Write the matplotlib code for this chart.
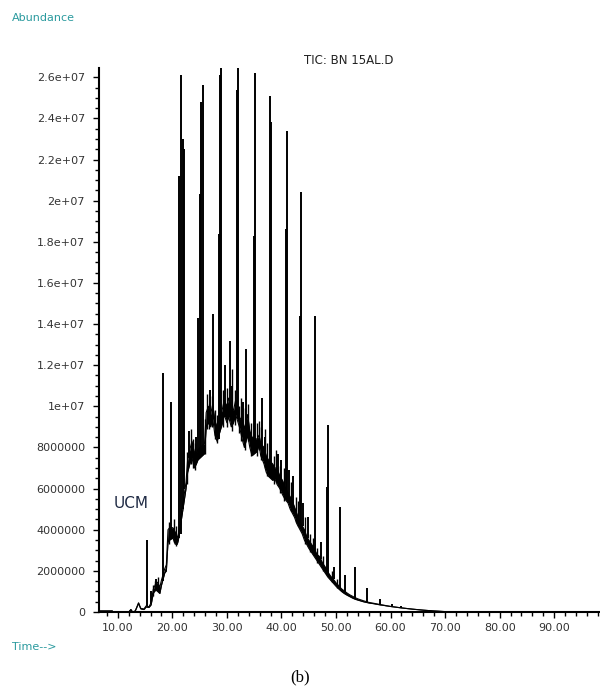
import matplotlib
matplotlib.use("Agg")
import matplotlib.pyplot as plt
from matplotlib.ticker import MultipleLocator, FuncFormatter

# Baseline / UCM hump of the TIC trace (time in min, abundance in millions)
trace_time = [6.6, 9.0, 9.1, 12.0, 12.4, 12.7, 13.2, 13.8, 14.2, 14.8, 15.2, 15.7,
              16.1, 16.5, 16.9, 17.3, 17.7, 18.0, 18.6, 18.9, 19.2, 19.5, 20.1, 20.5,
              20.9, 21.1, 22.5, 22.8, 23.2, 23.6, 24.0, 24.4, 24.7, 25.9, 26.2, 26.6,
              27.0, 27.4, 27.8, 28.2, 29.2, 29.5, 30.0, 30.3, 30.8, 31.2, 31.6, 32.4,
              32.8, 33.2, 33.8, 34.2, 34.6, 35.5, 35.9, 36.2, 36.8, 37.2, 37.6, 38.4,
              38.8, 39.2, 39.7, 40.2, 40.6, 41.2, 41.6, 42.0, 42.4, 42.8, 43.2, 43.8,
              44.2, 44.6, 45.0, 45.5, 46.0, 46.5, 47.0, 47.5, 48.0, 48.5, 49.0, 49.5,
              50.0, 50.5, 51.0, 51.5, 52.0, 52.5, 53.0, 53.5, 54.0, 55.0, 56.0, 57.0,
              58.0, 60.0, 62.0, 64.0, 66.0, 68.0, 70.0, 71.0, 98.4]
trace_low = [0.05, 0.05, 0.0, 0.0, 0.12, 0.0, 0.05, 0.42, 0.15, 0.12, 0.25, 0.22,
             0.35, 0.9, 1.1, 1.0, 0.9, 1.3, 1.9, 2.0, 3.4, 3.5, 3.6, 3.3,
             3.3, 3.5, 6.0, 6.8, 7.2, 7.5, 7.0, 7.2, 7.4, 7.7, 9.0, 9.2,
             9.0, 9.4, 8.6, 8.3, 9.2, 9.6, 9.2, 9.5, 9.0, 9.2, 9.6, 8.9,
             8.4, 8.0, 8.6, 8.0, 7.6, 7.8, 8.1, 7.6, 7.2, 6.8, 6.6, 6.4,
             6.5, 6.2, 6.0, 5.7, 5.5, 5.3, 5.0, 4.8, 4.6, 4.3, 4.1, 3.8,
             3.5, 3.3, 3.1, 2.9, 2.7, 2.5, 2.3, 2.1, 1.9, 1.7, 1.55, 1.4,
             1.25, 1.12, 1.0, 0.9, 0.82, 0.75, 0.68, 0.62, 0.58, 0.5, 0.44, 0.4,
             0.35, 0.27, 0.2, 0.14, 0.09, 0.05, 0.02, 0.0, 0.0]
trace_high = [0.05, 0.05, 0.0, 0.0, 0.12, 0.0, 0.05, 0.45, 0.18, 0.15, 0.3, 0.25,
              0.45, 1.1, 1.35, 1.45, 1.2, 1.55, 2.1, 2.3, 4.0, 4.1, 4.1, 3.9,
              3.6, 3.8, 6.3, 7.4, 7.9, 8.3, 7.8, 7.7, 7.9, 8.2, 9.7, 10.0,
              9.6, 10.1, 9.3, 9.0, 9.9, 10.3, 10.0, 10.4, 10.0, 9.8, 10.3, 9.4,
              9.4, 8.9, 9.6, 8.8, 8.5, 8.4, 8.6, 8.2, 8.0, 7.6, 7.4, 7.2,
              7.0, 7.0, 6.6, 6.4, 6.1, 5.8, 5.6, 5.4, 5.1, 4.8, 4.5, 4.2,
              4.0, 3.7, 3.5, 3.3, 3.1, 2.8, 2.7, 2.4, 2.2, 1.95, 1.75, 1.6,
              1.42, 1.28, 1.13, 1.03, 0.93, 0.84, 0.77, 0.7, 0.64, 0.55, 0.47, 0.42,
              0.37, 0.27, 0.2, 0.14, 0.09, 0.05, 0.02, 0.0, 0.0]

# Resolved peaks: retention time, foot and apex (millions)
peak_time = [15.42, 16.0, 17.0, 18.35, 19.75, 21.28, 21.6, 21.9, 22.2, 23.0,
             24.3, 24.76, 25.0, 25.3, 25.65, 26.9, 27.5, 28.5, 28.75, 28.95,
             29.7, 30.5, 31.0, 31.85, 32.05, 33.0, 33.55, 34.9, 35.15, 36.5,
             37.0, 37.95, 38.15, 39.4, 40.0, 40.75, 40.95, 41.4, 42.1, 43.35,
             43.5, 44.0, 44.9, 46.1, 47.2, 48.4, 48.5, 49.7, 50.8, 51.7,
             53.4, 55.6, 58.0, 60.2, 62.0]
peak_base = [0.3, 0.4, 1.2, 1.5, 3.8, 3.6, 3.8, 5.0, 6.0, 7.5,
             7.5, 7.5, 7.6, 7.7, 7.8, 9.5, 9.4, 8.4, 8.8, 9.0,
             9.5, 9.5, 9.5, 9.6, 9.4, 8.8, 8.6, 8.0, 8.0, 7.8,
             7.5, 7.0, 7.0, 6.4, 6.3, 5.6, 5.6, 5.6, 5.2, 4.2,
             4.2, 4.2, 3.6, 2.8, 2.6, 1.8, 1.8, 1.6, 1.1, 0.95,
             0.65, 0.5, 0.36, 0.27, 0.2]
peak_top = [3.5, 1.0, 1.6, 11.6, 10.2, 21.2, 26.1, 23.0, 22.5, 8.8,
            8.5, 14.3, 20.3, 24.8, 25.6, 10.8, 14.5, 18.4, 26.1, 26.45,
            12.0, 13.2, 11.0, 25.4, 26.45, 10.2, 12.8, 18.3, 26.2, 10.4,
            8.5, 25.1, 23.8, 7.7, 7.4, 18.6, 23.4, 6.9, 6.6, 14.4,
            20.4, 5.3, 4.6, 14.4, 3.4, 6.1, 9.1, 2.2, 5.1, 1.8,
            2.2, 1.15, 0.63, 0.38, 0.28]

# Unresolved jitter on top of the hump (time, low, high in millions)
jitter_time = [16.4, 16.8, 17.4, 19.4, 20.3, 20.7, 22.7, 23.4, 23.8, 24.1,
               26.0, 26.4, 26.7, 27.2, 27.9, 28.2, 29.3, 30.1, 30.9, 31.4,
               32.3, 32.6, 33.3, 33.9, 34.4, 35.6, 35.9, 36.2, 36.9, 37.4,
               38.6, 39.0, 39.8, 40.4, 41.7, 42.6, 43.0, 44.4, 45.3, 45.7,
               46.6, 47.7, 49.2, 50.2]
jitter_low = [0.8, 1.0, 1.0, 3.3, 3.4, 3.2, 6.2, 7.2, 7.0, 6.9,
              7.7, 8.9, 8.9, 9.0, 8.4, 8.2, 9.0, 9.0, 8.8, 9.1,
              8.7, 8.3, 7.9, 8.3, 7.6, 7.6, 7.9, 7.4, 7.0, 6.6,
              6.2, 6.3, 5.8, 5.4, 4.9, 4.4, 4.2, 3.3, 2.9, 2.8,
              2.4, 2.0, 1.45, 1.15]
jitter_high = [1.3, 1.5, 1.7, 4.4, 4.5, 4.2, 7.8, 8.9, 8.4, 8.2,
               9.4, 10.6, 10.1, 10.5, 9.8, 9.6, 10.8, 10.9, 11.8, 10.8,
               10.0, 10.4, 9.9, 10.1, 9.2, 9.2, 9.3, 9.0, 8.9, 8.2,
               7.6, 7.9, 7.1, 7.0, 6.3, 5.6, 5.4, 4.6, 3.8, 3.6,
               3.1, 2.7, 2.0, 1.6]

y_major = [0, 2, 4, 6, 8, 10, 12, 14, 16, 18, 20, 22, 24, 26]
x_major = [10, 20, 30, 40, 50, 60, 70, 80, 90]

teal = '#2a9a9e'
tick_col = '#333333'

fig = plt.figure(figsize=(6.0, 6.91), dpi=100)
ax = fig.add_axes([0.165, 0.1143, 0.835, 0.7873])

scale = 1e6
lo = [v * scale for v in trace_low]
hi = [v * scale for v in trace_high]
ax.fill_between(trace_time, lo, hi, color='black', lw=0)
ax.plot(trace_time, lo, color='black', lw=0.8)
ax.plot(trace_time, hi, color='black', lw=0.8)
ax.vlines(jitter_time, [v * scale for v in jitter_low], [v * scale for v in jitter_high],
          colors='black', lw=1.0)
ax.vlines(peak_time, [v * scale for v in peak_base], [v * scale for v in peak_top],
          colors='black', lw=1.4)

ax.set_xlim(6.55, 98.4)
ax.set_ylim(0, 2.645e7)

for side in ['top', 'right']:
    ax.spines[side].set_visible(False)
for side in ['left', 'bottom']:
    ax.spines[side].set_linewidth(1.5)

ax.set_xticks(x_major)
ax.xaxis.set_minor_locator(MultipleLocator(2))
ax.set_xticklabels([f"{v:.2f}" for v in x_major])
ax.set_yticks([v * scale for v in y_major])
ax.yaxis.set_minor_locator(MultipleLocator(5e5))


def abund_fmt(v, pos):
    if v == 0:
        return "0"
    if v < 1e7:
        return f"{int(round(v))}"
    m = v / 1e7
    s = f"{m:.1f}".rstrip('0').rstrip('.')
    return f"{s}e+07"


ax.yaxis.set_major_formatter(FuncFormatter(abund_fmt))
ax.tick_params(axis='both', which='major', direction='out', length=4, width=1,
               labelsize=8, labelcolor=tick_col)
ax.tick_params(axis='both', which='minor', direction='out', length=3, width=1)
ax.tick_params(axis='y', pad=6)
ax.tick_params(axis='x', pad=4)

# Labels in the ChemStation style
fig.text(0.02, 0.974, "Abundance", color=teal, fontsize=8, va='center')
fig.text(0.02, 0.064, "Time-->", color=teal, fontsize=8, va='center')
fig.text(0.507, 0.913, "TIC: BN 15AL.D", color='#222222', fontsize=8.5, va='center')
ax.text(9.2, 5.3e6, "UCM", color='#1f2a44', fontsize=11, va='center')
fig.text(0.5, 0.019, "(b)", family='Liberation Serif', fontsize=12,
         ha='center', va='center')

fig.savefig("out.png", dpi=100)
